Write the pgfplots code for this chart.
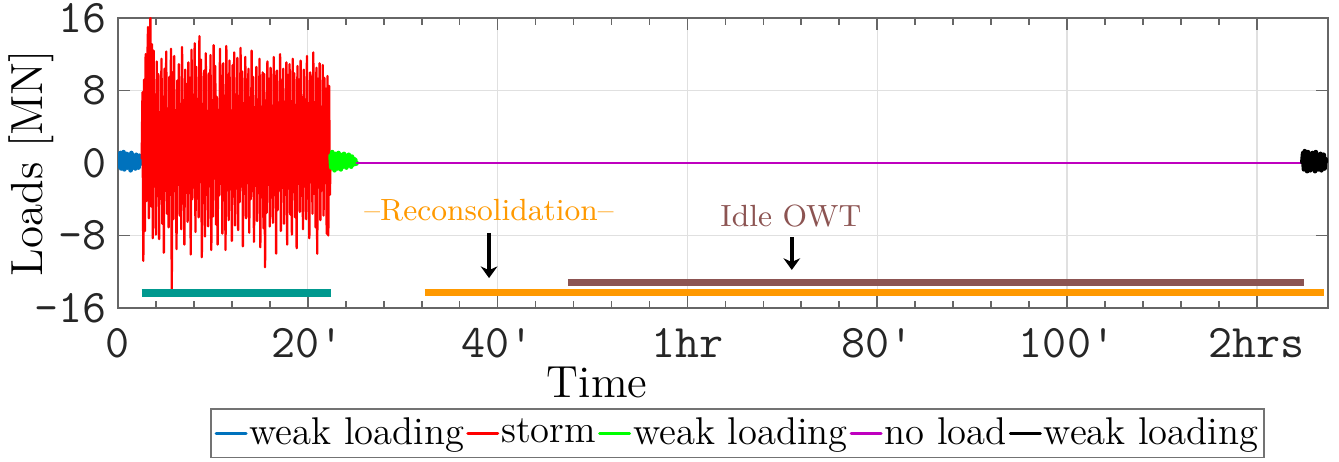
\documentclass[border=0pt]{standalone}
\usepackage{pgfplots}
\pgfplotsset{compat=1.18}
\usepackage{pgfplotstable}
\usetikzlibrary{arrows.meta}

\definecolor{mblue}{rgb}{0,0.447,0.741}
\definecolor{mgreen}{rgb}{0,1,0}
\definecolor{mmag}{rgb}{0.75,0,0.75}
\definecolor{mteal}{rgb}{0,0.6,0.56}
\definecolor{morange}{rgb}{1,0.6,0}
\definecolor{mbrown}{rgb}{0.55,0.33,0.32}

% weak loading before the storm (0 - 2.5 min)
\pgfplotstableread[row sep=\\]{y\\
0.2\\0.9\\-0.4\\1.1\\-0.6\\0.8\\-0.2\\1.2\\-0.7\\0.6\\0.1\\1.0\\-0.5\\0.9\\-0.3\\0.7\\
-0.8\\1.1\\0.0\\0.8\\-0.4\\0.5\\-0.6\\0.9\\-0.2\\0.6\\-0.5\\0.8\\-0.1\\0.4\\0.2\\}\weakA

% storm (2.5 - 22.4 min)
\pgfplotstableread[row sep=\\]{y\\
0.5\\7.8\\-10.8\\9.2\\-7.5\\12.0\\-4.2\\10.5\\15.0\\-6.1\\8.3\\16.0\\
-4.8\\13.1\\-8.3\\12.4\\-2.6\\6.9\\-7.9\\11.2\\-1.5\\9.8\\-8.4\\5.6\\
-3.0\\11.5\\-6.7\\7.3\\-9.9\\10.4\\-2.2\\12.3\\-5.6\\6.0\\-7.1\\9.5\\
-3.5\\12.6\\-14.0\\10.0\\-6.2\\11.8\\-3.1\\5.6\\-9.5\\9.1\\-2.4\\10.9\\
-5.8\\6.2\\-7.3\\12.8\\-2.9\\5.0\\-9.0\\10.3\\-1.8\\8.7\\-6.5\\11.1\\
-3.3\\9.4\\-10.1\\12.5\\-4.0\\5.9\\-2.7\\13.2\\-7.6\\10.6\\-3.9\\7.0\\
-6.0\\14.0\\-2.1\\11.4\\-10.4\\6.5\\-4.4\\10.2\\-8.1\\12.1\\-3.2\\5.4\\
-7.0\\9.9\\-2.5\\11.9\\-9.6\\6.1\\-5.9\\13.0\\-1.7\\10.7\\-6.8\\7.3\\
-9.0\\5.5\\-3.6\\12.6\\-2.3\\9.6\\-7.8\\11.0\\-4.1\\6.4\\-9.6\\12.9\\
-3.0\\9.7\\-6.3\\11.3\\-2.0\\5.8\\-8.6\\10.8\\-3.7\\12.2\\-6.9\\6.8\\
-2.8\\11.6\\-7.4\\7.4\\-4.3\\12.7\\-2.6\\10.1\\-9.2\\6.6\\-3.4\\11.7\\
-6.1\\9.2\\-2.2\\10.4\\-7.7\\6.0\\-4.0\\12.4\\-3.1\\9.5\\-8.7\\5.7\\
-2.5\\10.6\\-6.4\\7.0\\-3.3\\11.5\\-9.3\\6.2\\-2.9\\10.0\\-7.2\\9.8\\
-11.5\\6.9\\-5.5\\11.2\\-2.4\\9.3\\-7.0\\10.5\\-3.8\\6.3\\-6.6\\11.7\\
-2.7\\9.6\\-10.0\\10.2\\-5.2\\6.5\\-3.0\\12.0\\-7.5\\9.1\\-2.1\\10.4\\
-6.7\\6.0\\-3.5\\11.1\\-9.0\\9.7\\-2.8\\10.9\\-5.7\\6.8\\-7.9\\11.5\\
-3.2\\9.9\\-6.0\\6.4\\-9.4\\10.7\\-2.3\\9.2\\-5.4\\11.3\\-3.6\\6.1\\
-7.3\\10.3\\-2.6\\7.0\\-6.2\\11.8\\-3.9\\6.6\\-8.3\\10.0\\-2.0\\9.5\\
-5.6\\12.2\\-3.4\\6.7\\-7.1\\10.5\\-10.0\\9.3\\-2.7\\11.0\\-6.3\\6.2\\
-3.0\\10.8\\-5.8\\9.4\\-2.2\\8.2\\-7.8\\9.6\\-8.0\\8.5\\-3.5\\1.0\\}\storm

% weak loading after the storm (22.4 - 25.2 min)
\pgfplotstableread[row sep=\\]{y\\
0.8\\-0.5\\1.2\\-0.3\\0.9\\-0.8\\1.0\\0.1\\0.7\\-0.6\\1.1\\-0.2\\0.8\\-0.7\\0.5\\0.9\\
-0.4\\1.0\\-0.1\\0.6\\-0.5\\0.8\\-0.3\\0.9\\0.0\\0.6\\-0.4\\0.7\\-0.2\\0.5\\0.1\\0.4\\-0.1\\0.0\\}\weakB

% weak loading at the end (124.8 - 127.3 min)
\pgfplotstableread[row sep=\\]{y\\
0.1\\1.1\\-0.7\\1.3\\-0.5\\0.9\\-0.9\\1.2\\-0.3\\0.8\\-0.8\\1.0\\-0.2\\1.1\\-0.6\\0.7\\
-0.9\\1.2\\-0.4\\0.9\\-0.7\\0.6\\-0.5\\1.0\\-0.8\\0.8\\-0.3\\0.9\\-0.6\\0.5\\0.2\\}\weakC

\begin{document}
\begin{tikzpicture}
\begin{axis}[
  at={(0,0)}, anchor=south west,
  width=363pt, height=87pt, scale only axis,
  xmin=0, xmax=127.5, ymin=-16, ymax=16,
  xtick={0,20,40,60,80,100,120},
  xticklabels={0,20\textquotesingle,40\textquotesingle,1hr,80\textquotesingle,100\textquotesingle,2hrs},
  minor x tick num=4,
  ytick={-16,-8,0,8,16},
  yticklabels={-16,-8,0,8,16},
  tick align=inside,
  major tick length=3.5pt, minor tick length=2pt,
  grid=major,
  major grid style={black!12, line width=0.4pt},
  axis line style={black!60, line width=0.6pt},
  every tick/.style={black!60, line width=0.5pt},
  ticklabel style={font=\fontsize{14}{14}\selectfont\ttfamily, text=black!85},
  xticklabel style={yshift=-2.6pt},
  xlabel={Time},
  xlabel style={font=\fontsize{13.5}{14}\selectfont, at={(axis description cs:0.396,0)}, anchor=base, yshift=-27pt},
  ylabel={Loads [MN]},
  ylabel style={font=\fontsize{13.5}{14}\selectfont, at={(axis description cs:-0.0628,0.5)}, anchor=base},
  legend style={at={(axis description cs:0.512,-0.345)}, anchor=north,
    draw=black!55, line width=0.5pt, inner xsep=1pt, inner ysep=0.5pt,
    font=\fontsize{11.6}{12}\selectfont,
    nodes={inner xsep=0.6pt, inner ysep=2pt},
    /tikz/every even column/.append style={column sep=0pt},
    /tikz/every odd column/.append style={column sep=0pt}},
  legend columns=-1,
  legend image code/.code={\draw[#1, line width=0.9pt] (0pt,0pt) -- (9pt,0pt);},
  every axis plot/.append style={line join=round, line cap=round},
]
\addplot[mblue, line width=1.4pt] table[x expr=\coordindex*0.0833, y=y] {\weakA};
\addplot[red, line width=0.7pt] table[x expr=2.5+\coordindex*0.0833, y=y] {\storm};
\addplot[mgreen, line width=1.4pt] table[x expr=22.4+\coordindex*0.0833, y=y] {\weakB};
\addplot[mmag, line width=0.8pt] coordinates {(25.15,0) (124.8,0)};
\addplot[black, line width=1.4pt] table[x expr=124.8+\coordindex*0.0833, y=y] {\weakC};
\legend{weak loading,storm,weak loading,no load,weak loading}

% phase bars
\addplot[mteal, line width=2.4pt, line cap=butt, forget plot] coordinates {(2.5,-14.4) (22.4,-14.4)};
\addplot[morange, line width=2.3pt, line cap=butt, forget plot] coordinates {(32.3,-14.3) (127.1,-14.3)};
\addplot[mbrown, line width=2.1pt, line cap=butt, forget plot] coordinates {(47.4,-13.2) (125.0,-13.2)};

\node[text=morange, font=\fontsize{9.2}{10}\selectfont, anchor=base] at (axis cs:39.1,-6.33) {\textendash Reconsolidation\textendash};
\draw[-{Stealth[length=3.5pt,width=5pt]}, line width=1.2pt] (axis cs:39.1,-7.7) -- (axis cs:39.1,-12.7);
\node[text=mbrown, font=\fontsize{9.2}{10}\selectfont, anchor=base] at (axis cs:70.9,-7.0) {Idle OWT};
\draw[-{Stealth[length=3.5pt,width=5pt]}, line width=1.2pt] (axis cs:71.0,-8.2) -- (axis cs:71.0,-11.8);
\end{axis}
\pgfresetboundingbox
\path (-35.4pt,-46.2pt) rectangle (366.3pt,92.4pt);
\end{tikzpicture}
\end{document}
